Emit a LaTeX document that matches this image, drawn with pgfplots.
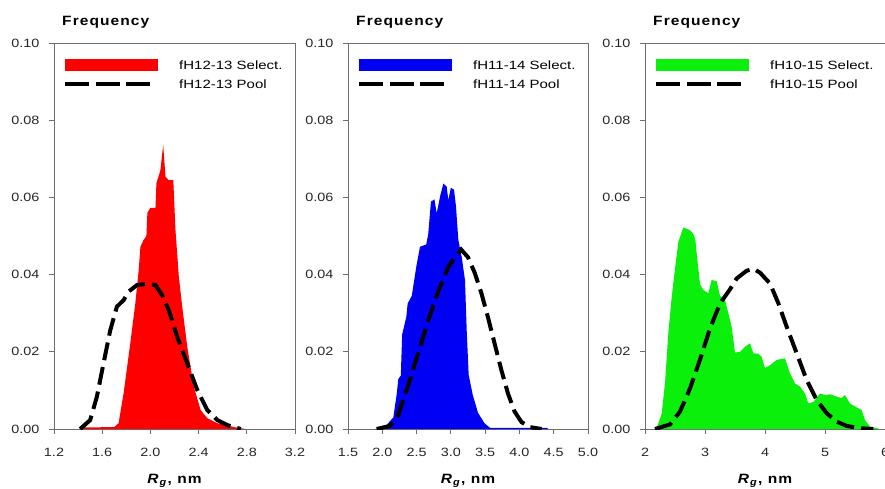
\documentclass[border=0pt]{standalone}
\usepackage{fontspec}
\setmainfont{Liberation Sans}
\newfontfamily\tickfont[FakeStretch=1.2]{Liberation Sans}
\newfontfamily\legfont[FakeStretch=1.25]{Liberation Sans}
\newfontfamily\labfont[FakeStretch=1.15,LetterSpace=8]{Liberation Sans}
\usepackage{pgfplots}
\pgfplotsset{compat=1.18}
\definecolor{framegray}{RGB}{110,110,110}
\definecolor{selred}{RGB}{255,0,0}
\definecolor{selblue}{RGB}{0,0,245}
\definecolor{selgreen}{RGB}{10,240,10}
\pgfplotsset{
  panel/.style={
    scale only axis, width=241pt, height=386pt,
    anchor=south west,
    ymin=0, ymax=0.1,
    ytick={0,0.02,0.04,0.06,0.08,0.10},
    yticklabel style={xshift=-6pt, /pgf/number format/.cd, fixed, fixed zerofill, precision=2},
    xticklabel style={yshift=-11pt},
    axis line style={framegray, line width=0.8pt},
    every tick/.style={framegray, line width=0.8pt},
    tick align=outside, major tick length=5pt,
    tick pos=left,
    /pgf/number format/assume math mode=true,
    ticklabel style={font=\tickfont\fontsize{12}{14}\selectfont, text=black!85},
    every axis y label/.style={at={(axis description cs:0,1)}, anchor=base west, inner sep=0pt, xshift=8pt, yshift=17pt, font=\labfont\bfseries\fontsize{13.5}{15}\selectfont},
    every axis x label/.style={at={(axis description cs:0.5,0)}, anchor=base, inner sep=0pt, yshift=-54pt, font=\labfont\bfseries\fontsize{13.5}{15}\selectfont},
    ylabel={Frequency},
    xlabel={\textit{R}\textsubscript{\textit{g}}, nm},
    legend style={draw=none, fill=none, at={(axis description cs:0,1)}, anchor=north west, xshift=9pt, yshift=-16pt, inner sep=0pt, row sep=7pt, nodes={inner sep=0pt, text depth=0pt}, font=\legfont\fontsize{12}{14}\selectfont, cells={anchor=west}},
    legend cell align=left,
  },
  selimg/.style={legend image code/.code={\fill[#1, draw=none] (0pt,-6pt) rectangle (93pt,6pt); \path[draw=none, fill=none] (0pt,-6pt) rectangle (114pt,6pt);}},
  poolimg/.style={legend image code/.code={\draw[black, line width=4pt, dash pattern=on 24pt off 6.5pt] (0pt,0pt) -- (85pt,0pt); \path[draw=none, fill=none] (0pt,-6pt) rectangle (114pt,6pt);}},
  pooldash/.style={black, line width=4pt, dash pattern=on 18pt off 7pt},
}
\begin{document}
\begin{tikzpicture}
% ---------- panel 1 ----------
\begin{axis}[panel, at={(54pt,59pt)},
  xmin=1.2, xmax=3.2, xtick={1.2,1.6,2.0,2.4,2.8,3.2},
  xticklabel style={/pgf/number format/.cd, fixed, fixed zerofill, precision=1}]
\addplot[fill=selred, draw=none, selimg=selred] coordinates {
(1.43,0) (1.45,0.0004) (1.70,0.0005) (1.736,0.0015) (1.778,0.0093) (1.833,0.0222)
(1.875,0.0326) (1.903,0.0412) (1.917,0.0472) (1.944,0.049) (1.967,0.050) (1.975,0.056)
(2.0,0.0573) (2.042,0.0573) (2.05,0.0637) (2.083,0.067) (2.106,0.0736) (2.125,0.0654)
(2.15,0.0645) (2.19,0.0645) (2.208,0.0516) (2.236,0.0394) (2.264,0.0317) (2.306,0.0213)
(2.36,0.011) (2.417,0.0049) (2.472,0.0028) (2.556,0.0015) (2.694,0.0005) (2.79,0)
} \closedcycle;
\addlegendentry{fH12-13 Select.}
\addplot[pooldash, poolimg] coordinates {
(1.417,0) (1.5,0.0023) (1.556,0.0084) (1.611,0.017) (1.667,0.0256) (1.722,0.0317)
(1.778,0.0334) (1.819,0.0356) (1.889,0.0373) (1.972,0.0376) (2.042,0.0373) (2.097,0.0347)
(2.153,0.0308) (2.222,0.0239) (2.306,0.017) (2.389,0.0101) (2.472,0.0049) (2.556,0.0023)
(2.639,0.001) (2.75,0)
};
\addlegendentry{fH12-13 Pool}
\end{axis}
% ---------- panel 2 ----------
\begin{axis}[panel, at={(348pt,59pt)}, width=240pt,
  xmin=1.5, xmax=5.0, xtick={1.5,2.0,2.5,3.0,3.5,4.0,4.5,5.0},
  xticklabel style={/pgf/number format/.cd, fixed, fixed zerofill, precision=1}]
\addplot[fill=selblue, draw=none, selimg=selblue] coordinates {
(1.894,0) (2.035,0.0005) (2.161,0.003) (2.21,0.009) (2.234,0.0130) (2.27,0.0138)
(2.29,0.0245) (2.35,0.029) (2.37,0.0325) (2.43,0.0345) (2.50,0.0425) (2.55,0.0472)
(2.64,0.0478) (2.67,0.0505) (2.71,0.0589) (2.76,0.0595) (2.794,0.0559) (2.842,0.0602)
(2.89,0.0636) (2.939,0.0628) (2.963,0.0593) (3.00,0.0625) (3.046,0.062) (3.075,0.0576)
(3.109,0.049) (3.158,0.0446) (3.206,0.0386) (3.231,0.0256) (3.26,0.0140) (3.32,0.0088)
(3.396,0.0042) (3.49,0.0015) (3.571,0.0003) (4.40,0.0003) (4.42,0)
} \closedcycle;
\addlegendentry{fH11-14 Select.}
\addplot[pooldash, poolimg] coordinates {
(1.918,0) (2.112,0.0008) (2.229,0.0035) (2.38,0.0115) (2.52,0.0195) (2.667,0.0280)
(2.812,0.0355) (2.958,0.0418) (3.056,0.0445) (3.15,0.0465) (3.25,0.0445) (3.347,0.0405)
(3.445,0.0352) (3.54,0.0290) (3.64,0.0220) (3.736,0.0153) (3.833,0.0092) (3.93,0.0045)
(4.03,0.0018) (4.15,0.0005) (4.325,0)
};
\addlegendentry{fH11-14 Pool}
\end{axis}
% ---------- panel 3 ----------
\begin{axis}[panel, at={(645pt,59pt)}, width=240pt,
  xmin=2, xmax=6, xtick={2,3,4,5,6}]
\addplot[fill=selgreen, draw=none, selimg=selgreen] coordinates {
(2.19,0) (2.278,0.004) (2.333,0.0118) (2.389,0.025) (2.444,0.034) (2.5,0.0415)
(2.556,0.0485) (2.639,0.0522) (2.75,0.0515) (2.806,0.0505) (2.84,0.049) (2.861,0.0455)
(2.917,0.0375) (2.972,0.036) (3.056,0.0352) (3.111,0.0386) (3.194,0.0383) (3.25,0.0345)
(3.333,0.0335) (3.389,0.0300) (3.444,0.0265) (3.5,0.0198) (3.583,0.0200) (3.667,0.0213)
(3.75,0.0222) (3.806,0.0196) (3.889,0.0195) (3.944,0.0187) (4.0,0.0158) (4.083,0.0165)
(4.194,0.0179) (4.333,0.0183) (4.417,0.0144) (4.5,0.0118) (4.583,0.0110) (4.667,0.0092)
(4.722,0.0066) (4.806,0.0070) (4.917,0.0092) (5.0,0.0088) (5.083,0.0090) (5.194,0.0084)
(5.278,0.0080) (5.333,0.0088) (5.417,0.0066) (5.528,0.0056) (5.611,0.0049) (5.667,0.0023)
(5.75,0.0006) (5.917,0)
} \closedcycle;
\addlegendentry{fH10-15 Select.}
\addplot[pooldash, poolimg] coordinates {
(2.167,0) (2.417,0.0012) (2.583,0.0045) (2.75,0.0105) (2.917,0.018) (3.083,0.026)
(3.25,0.0325) (3.417,0.0362) (3.528,0.039) (3.694,0.041) (3.806,0.0415) (3.917,0.0405)
(4.083,0.0377) (4.222,0.0326) (4.361,0.0265) (4.528,0.0196) (4.694,0.0127) (4.861,0.0075)
(5.028,0.0041) (5.194,0.0019) (5.361,0.0008) (5.583,0.0002) (5.806,0)
};
\addlegendentry{fH10-15 Pool}
\end{axis}
\pgfresetboundingbox
\useasboundingbox (0pt,0pt) rectangle (885pt,488pt);
\end{tikzpicture}
\end{document}
